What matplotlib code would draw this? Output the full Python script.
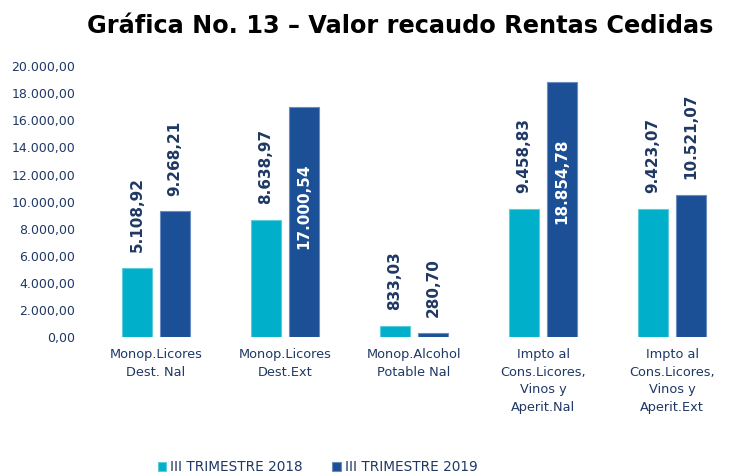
import matplotlib.pyplot as plt
from matplotlib.ticker import FuncFormatter
import numpy as np

categories = ['Monop.Licores\nDest. Nal', 'Monop.Licores\nDest.Ext', 'Monop.Alcohol\nPotable Nal',
              'Impto al\nCons.Licores,\nVinos y\nAperit.Nal', 'Impto al\nCons.Licores,\nVinos y\nAperit.Ext']
trim_2018 = [5108.92, 8638.97, 833.03, 9458.83, 9423.07]
trim_2019 = [9268.21, 17000.54, 280.70, 18854.78, 10521.07]
series_names = ['III TRIMESTRE 2018', 'III TRIMESTRE 2019']

c2018 = '#00AFC9'
c2019 = '#1B4F96'
navy = '#1F3864'


def fmt_es(v, pos=None):
    s = '{:,.2f}'.format(v)
    return s.replace(',', 'X').replace('.', ',').replace('X', '.')


fig = plt.figure(figsize=(7.3, 4.76), dpi=100)
ax = fig.add_axes([0.126, 0.292, 0.869, 0.569])

x = np.arange(len(categories))
w = 0.23
off = 0.147
b1 = ax.bar(x - off, trim_2018, w, color=c2018, edgecolor='#5FCBDA', linewidth=0.8, label=series_names[0])
b2 = ax.bar(x + off, trim_2019, w, color=c2019, edgecolor='#6A8CC0', linewidth=0.8, label=series_names[1])

# etiquetas de valor
for bars in (b1, b2):
    for rect in bars:
        v = rect.get_height()
        cx = rect.get_x() + rect.get_width() / 2
        if v > 15000:
            ax.text(cx, v - 4200, fmt_es(v), rotation=90, ha='center', va='top',
                    color='white', fontsize=11, fontweight='bold')
        else:
            ax.annotate(fmt_es(v), (cx, v), xytext=(0, 11.5), textcoords='offset points',
                        rotation=90, ha='center', va='bottom', color=navy,
                        fontsize=11, fontweight='bold')

ax.set_xlim(-0.496, 4.42)
ax.set_ylim(0, 20000)
ax.set_yticks(np.arange(0, 20001, 2000))
ax.yaxis.set_major_formatter(FuncFormatter(fmt_es))
ax.set_xticks(x)
ax.set_xticklabels(categories, linespacing=1.45)
ax.tick_params(axis='both', length=0, colors=navy, labelsize=9)
ax.tick_params(axis='x', pad=8, labelsize=9.3)
ax.tick_params(axis='y', pad=12)
for s in ax.spines.values():
    s.set_visible(False)

fig.suptitle('Gráfica No. 13 – Valor recaudo Rentas Cedidas', x=0.548, y=0.97,
             fontsize=17.3, fontweight='bold', color='black')

fig.legend(handles=[b1, b2], labels=series_names, loc='lower center',
           bbox_to_anchor=(0.435, -0.022), ncol=2, frameon=False,
           fontsize=9.8, handlelength=0.6, handleheight=0.6, handletextpad=0.3,
           columnspacing=2.2, labelcolor=navy)

fig.savefig('out.png', dpi=100)
